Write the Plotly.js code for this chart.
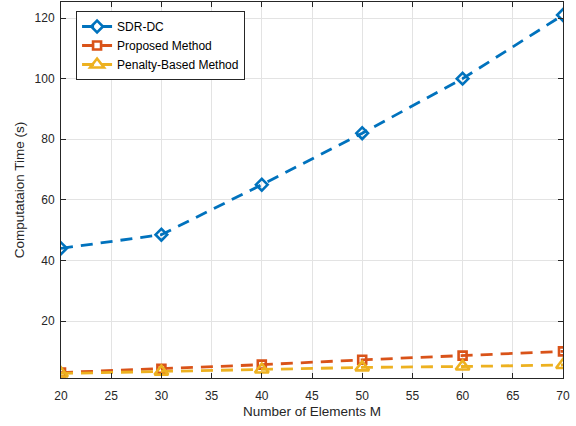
<!DOCTYPE html>
<html>
<head>
<meta charset="utf-8">
<script src="https://cdn.plot.ly/plotly-3.0.1.min.js"></script>
<style>html,body{margin:0;padding:0;background:#fff;}#chart{width:576px;height:426px;}</style>
</head>
<body>
<div id="chart"></div>
<script>
const elementsM = [20, 30, 40, 50, 60, 70];
const sdrDC = [44, 48.5, 65, 82, 100, 121];
const proposed = [3.0, 4.2, 5.6, 7.2, 8.6, 10.0];
const penalty = [2.7, 3.3, 4.0, 4.7, 5.0, 5.5];
const xTicks = [20, 25, 30, 35, 40, 45, 50, 55, 60, 65, 70];
const yTicks = [20, 40, 60, 80, 100, 120];

const FONT = 'Liberation Sans, Arial, sans-serif';

const mk = (name, y, color, symbol, size) => ({
  x: elementsM, y: y, name: name, type: 'scatter', mode: 'lines+markers',
  line: {color: color, width: 2.8, dash: '12px,8px'},
  marker: {symbol: symbol, size: size, color: color, line: {color: color, width: 2.6}}
});

const traces = [
  mk('SDR-DC', sdrDC, '#0072BD', 'diamond-open', 9),
  mk('Proposed Method', proposed, '#D95319', 'square-open', 8),
  mk('Penalty-Based Method', penalty, '#EDB120', 'triangle-up-open', 12)
];

const axisCommon = {
  showline: true, linecolor: '#262626', linewidth: 1, mirror: 'ticks',
  ticks: 'inside', ticklen: 5, tickcolor: '#262626',
  showgrid: true, gridcolor: '#e3e3e3', gridwidth: 1, zeroline: false,
  tickfont: {family: FONT, size: 12, color: '#262626'}
};

const layout = {
  width: 576, height: 426,
  margin: {l: 61, r: 13, t: 2, b: 48},
  paper_bgcolor: '#fff', plot_bgcolor: '#fff',
  showlegend: true,
  xaxis: Object.assign({}, axisCommon, {
    range: [20, 70], tickvals: xTicks, ticktext: xTicks.map(String),
    ticklabelstandoff: 7,
    title: {text: 'Number of Elements M', font: {family: FONT, size: 13.5, color: '#262626'}, standoff: 4}
  }),
  yaxis: Object.assign({}, axisCommon, {
    range: [1.2, 125.3], tickvals: yTicks, ticktext: yTicks.map(String),
    ticklabelstandoff: 3,
    title: {text: 'Computataion Time (s)', font: {family: FONT, size: 13.5, color: '#262626'}, standoff: 6}
  }),
  legend: {
    x: 0.03, y: 0.976, xanchor: 'left', yanchor: 'top',
    bgcolor: '#fff', bordercolor: '#262626', borderwidth: 1,
    font: {family: FONT, size: 12, color: '#000'},
    tracegroupgap: 0, itemwidth: 30
  }
};

Plotly.newPlot('chart', traces, layout, {displayModeBar: false, staticPlot: true});
</script>
</body>
</html>
